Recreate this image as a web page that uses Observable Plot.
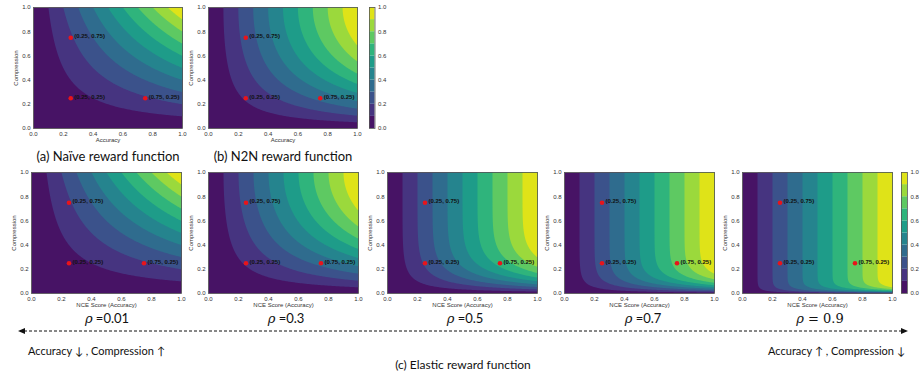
<!DOCTYPE html>
<html><head><meta charset="utf-8">
<script src="https://cdn.jsdelivr.net/npm/d3@7"></script>
<script src="https://cdn.jsdelivr.net/npm/@observablehq/plot@0.6"></script>
<style>
html,body{margin:0;padding:0;background:#fff;}
#root{position:relative;width:921px;height:375px;overflow:hidden;font-family:Lato,"Open Sans",sans-serif;color:#111;}
.abs{position:absolute;}
.cap{position:absolute;transform:translate(-50%,-50%);white-space:nowrap;}
.rho i{font-family:"DejaVu Serif",serif;}
</style></head><body><div id="root"></div>
<script>
// ---- data ----
const levels = [0, 0.1, 0.2, 0.3, 0.4, 0.5, 0.6, 0.7, 0.8, 0.9];
const tickValues = [0, 0.2, 0.4, 0.6, 0.8, 1.0];
const pointX = [0.25, 0.25, 0.75];
const pointY = [0.75, 0.25, 0.25];
const pointLabels = ["(0.25, 0.75)", "(0.25, 0.25)", "(0.75, 0.25)"];
const topTitles = ["(a) Naïve reward function", "(b) N2N reward function"];
const rhoValues = [0.01, 0.3, 0.5, 0.7, 0.9];
const rhoLabels = ["=0.01", "=0.3", "=0.5", "=0.7", "= 0.9"];
const rhoExponents = [1, 2, 6.5, 13, 44]; // compression-curvature of each elastic surface
const bottomTitle = "(c) Elastic reward function";
const leftNote = "Accuracy ↓ , Compression ↑";
const rightNote = "Accuracy ↑ , Compression ↓";

// reward surfaces
const naive = (a, c) => a * c;
const n2n = (a, c) => a * c * (2 - c);
const elastic = k => (a, c) => a * (1 - Math.pow(1 - c, k));

const root = document.getElementById("root");
const colorScale = {type: "linear", scheme: "viridis", domain: [-0.05, 0.95]};
const points = pointX.map((x, i) => ({x, y: pointY[i], label: pointLabels[i]}));

function place(node, left, top) {
  node.style.position = "absolute";
  node.style.left = left + "px";
  node.style.top = top + "px";
  root.appendChild(node);
}

function panel(value, xLabel, left, top, w, h) {
  const mL = 26, mR = 6, mT = 5, mB = 22;
  const svg = Plot.plot({
    width: w + mL + mR, height: h + mT + mB,
    marginLeft: mL, marginRight: mR, marginTop: mT, marginBottom: mB,
    style: {fontSize: "6px", fontFamily: "'Liberation Sans', Arial, sans-serif", color: "#333", background: "transparent", overflow: "visible"},
    x: {domain: [0, 1], ticks: tickValues, tickFormat: ".1f", tickSize: 0, tickPadding: 3, label: xLabel, labelAnchor: "center", labelOffset: 13, labelArrow: "none"},
    y: {domain: [0, 1], ticks: tickValues, tickFormat: ".1f", tickSize: 0, tickPadding: 3, label: "Compression", labelAnchor: "center", labelOffset: 20, labelArrow: "none"},
    color: colorScale,
    marks: [
      Plot.contour(null, {x1: 0, x2: 1, y1: 0, y2: 1, value, thresholds: levels, fill: "value", stroke: "none", pixelSize: 1}),
      Plot.frame({stroke: "#555", strokeWidth: 0.8}),
      Plot.dot(points, {x: "x", y: "y", r: 2.3, fill: "#e8141b", stroke: "none"}),
      Plot.text(points, {x: "x", y: "y", text: "label", dx: 3.5, dy: -1.5, textAnchor: "start", fontWeight: "bold", fill: "#111"})
    ]
  });
  place(svg, left - mL, top - mT);
}

function colorbar(left, top, w, h) {
  const mR = 18, mT = 5, mB = 5;
  const svg = Plot.plot({
    width: w + mR + 1, height: h + mT + mB,
    marginLeft: 1, marginRight: mR, marginTop: mT, marginBottom: mB,
    style: {fontSize: "6px", fontFamily: "'Liberation Sans', Arial, sans-serif", color: "#333", background: "transparent", overflow: "visible"},
    x: {domain: [0, 1], axis: null},
    y: {domain: [0, 1], axis: "right", ticks: tickValues, tickFormat: ".1f", tickSize: 0, tickPadding: 3, label: null},
    color: colorScale,
    marks: [
      Plot.rect(levels, {x1: () => 0, x2: () => 1, y1: d => d, y2: d => Math.min(1, d + 0.1), fill: d => d}),
      Plot.frame({stroke: "#555", strokeWidth: 0.8})
    ]
  });
  place(svg, left - 1, top - mT);
}

function caption(text, cx, cy, size) {
  const d = document.createElement("div");
  d.className = "cap";
  d.style.left = cx + "px"; d.style.top = cy + "px"; d.style.fontSize = size + "px";
  d.textContent = text;
  root.appendChild(d);
  return d;
}

// top row
panel(naive, "Accuracy", 33, 7, 149, 121);
panel(n2n, "Accuracy", 208, 7, 149, 121);
colorbar(369, 7, 5.5, 121);
caption(topTitles[0], 108, 156, 13);
caption(topTitles[1], 283, 156, 13);

// bottom row
const bottomLefts = [31, 208, 387, 564, 742];
const rhoCenters = [107, 286, 465, 643, 820];
rhoValues.forEach((rho, i) => {
  panel(elastic(rhoExponents[i]), "NCE Score (Accuracy)", bottomLefts[i], 172, 150, 121);
  const d = caption("", rhoCenters[i], 318, 13);
  d.className = "cap rho";
  d.innerHTML = `<i>ρ</i> ${rhoLabels[i]}`;
  if (i === rhoValues.length - 1) d.style.fontFamily = "'DejaVu Serif', serif";
});
colorbar(901, 172, 6, 121);

// dashed double arrow
const ns = "http://www.w3.org/2000/svg";
const arr = document.createElementNS(ns, "svg");
arr.setAttribute("width", 921); arr.setAttribute("height", 20);
arr.innerHTML = `<line x1="24" y1="10" x2="903" y2="10" stroke="#111" stroke-width="1" stroke-dasharray="3,2"/>
<polygon points="18,10 25,7 25,13" fill="#111"/><polygon points="908,10 901,7 901,13" fill="#111"/>`;
place(arr, 0, 321);

const l = caption(leftNote, 0, 350, 11); l.style.transform = "translate(0,-50%)"; l.style.left = "28px";
const r = caption(rightNote, 0, 350, 11); r.style.transform = "translate(-100%,-50%)"; r.style.left = "905px";
caption(bottomTitle, 463, 364, 12);
</script></body></html>
